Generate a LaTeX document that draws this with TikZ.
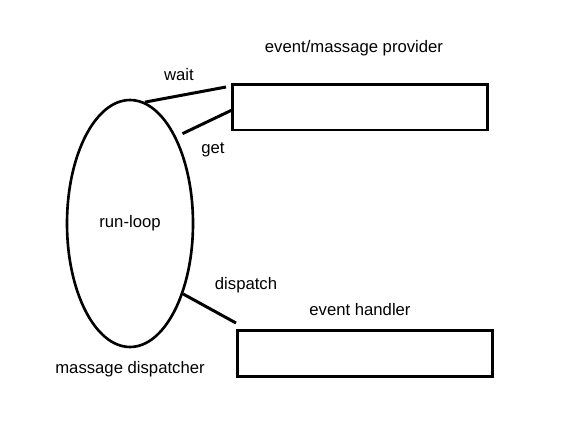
\documentclass[tikz,border=0pt]{standalone}
\usepackage{fontspec}
\setmainfont{Liberation Sans}
\usetikzlibrary{shapes.geometric}
\tikzset{
  box/.style={draw,line width=1.7pt,minimum width=5.12cm,minimum height=0.92cm,inner sep=0pt},
  loopshape/.style={ellipse,draw,line width=1.5pt,minimum width=2.52cm,minimum height=4.94cm,inner sep=0pt},
  lbl/.style={font=\fontsize{9.5}{11}\selectfont,inner sep=0pt}
}
\begin{document}
\begin{tikzpicture}[x=0.02cm,y=-0.02cm]
      \useasboundingbox (0,0) rectangle (563,423);
      \draw
        (130,223.5) node[loopshape] (loop){}
        (360,107) node[box] (provider){}
        (365,353) node[box] (handler){};
      \draw
        (130,223) node[lbl] (looptext){run-loop}
        (354,48) node[lbl] (providertext){event/massage provider}
        (360,310) node[lbl] (handlertext){event handler}
        (130,369) node[lbl] (dispatchertext){massage dispatcher}
        (179,75) node[lbl] (waittext){wait}
        (213,150) node[lbl] (gettext){get}
        (246,285) node[lbl] (dispatchtext){dispatch};
      \coordinate (waitend) at (226,87);
      \coordinate (getend) at (232,110);
      \coordinate (dispatchend) at (236,323);
      \begin{scope}[line width=1.7pt]
        \draw (loop.83) to (waitend);
        \draw[shorten <=0.14cm] (loop.62) to (getend);
        \draw (loop.-53) to (dispatchend);
      \end{scope}
    \end{tikzpicture}
\end{document}
